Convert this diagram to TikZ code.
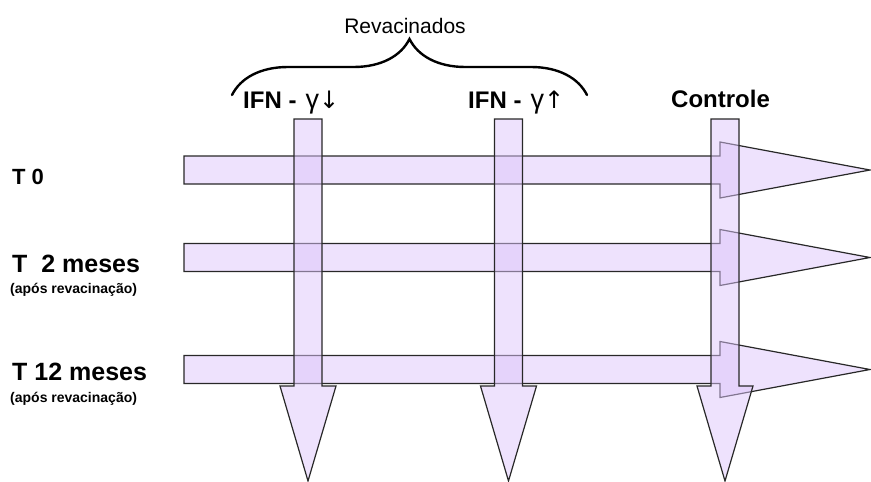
\documentclass[tikz,border=0pt]{standalone}
\usepackage{fontspec}
\setmainfont{Liberation Sans}
\newfontfamily\arrowfont{DejaVu Sans}
\usetikzlibrary{decorations.pathreplacing}
\definecolor{lilac}{RGB}{238,226,253}
\definecolor{lilacdeep}{RGB}{221,197,251}
\definecolor{rim}{RGB}{40,40,40}
\newcommand{\gammaup}[1]{{\mdseries\fontsize{27}{28}\selectfont γ}{\arrowfont\mdseries\fontsize{24}{28}\selectfont #1}}

\begin{document}
\begin{tikzpicture}[x=1pt,y=-1pt,
  hbar/.style={fill=lilac,draw=rim,line width=1.2pt},
  vbar/.style={fill=lilacdeep,fill opacity=0.5,draw=rim,line width=1.2pt},
  lbl/.style={anchor=base west,inner sep=0pt,font=\bfseries\fontsize{25}{28}\selectfont},
  sublbl/.style={anchor=base west,inner sep=0pt,font=\bfseries\fontsize{14}{16}\selectfont}]
\useasboundingbox (0,0) rectangle (871,482);

% time points
\foreach \y in {170,257.5,369.5}
  \draw[hbar] (184,\y-14) -- (720,\y-14) -- (720,\y-28) -- (870,\y) -- (720,\y+28) -- (720,\y+14) -- (184,\y+14) -- cycle;

% groups
\foreach \x in {308,508.5,725}
  \draw[vbar] (\x-14,119) -- (\x+14,119) -- (\x+14,386) -- (\x+28,386) -- (\x,481) -- (\x-28,386) -- (\x-14,386) -- cycle;

\node[lbl,font=\bfseries\fontsize{22}{26}\selectfont] at (12,184) (t0) {T 0};
\node[lbl] at (12,272) (t2) {T\ \ 2 meses};
\node[sublbl] at (10,293) (t2s) {(após revacinação)};
\node[lbl] at (12,380) (t12) {T 12 meses};
\node[sublbl] at (10,402) (t12s) {(após revacinação)};

\node[lbl,font=\bfseries\fontsize{24}{28}\selectfont] at (243,108) (ifnlow) {IFN -\hspace{9pt}\gammaup{↓}};
\node[lbl,font=\bfseries\fontsize{24}{28}\selectfont] at (468,108) (ifnhigh) {IFN -\hspace{9pt}\gammaup{↑}};
\node[lbl,font=\bfseries\fontsize{24}{28}\selectfont] at (671,107) (ctrl) {Controle};

\node[anchor=base,inner sep=0pt,font=\fontsize{21}{24}\selectfont] at (405,33) (revac) {Revacinados};
\draw[line width=2.4pt,line cap=round,decorate,decoration={brace,amplitude=56pt}] (232,95) -- (587,95);
\end{tikzpicture}
\end{document}
